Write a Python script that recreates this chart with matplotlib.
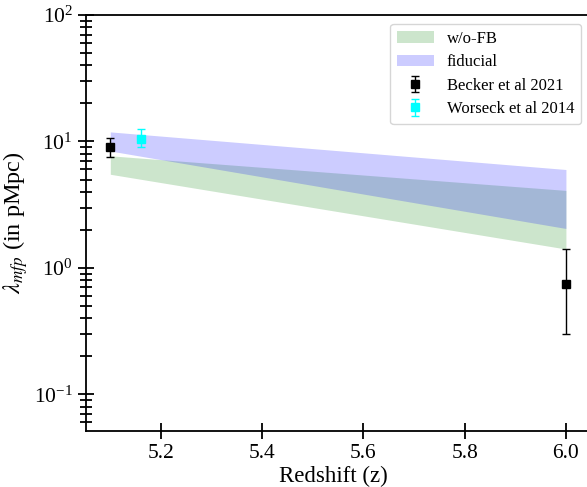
import matplotlib
matplotlib.use("Agg")
import matplotlib.pyplot as plt
import numpy as np

plt.rcParams['font.family'] = ['Liberation Serif', 'DejaVu Serif']
plt.rcParams['mathtext.fontset'] = 'stix'

# band data (z, lower, upper)
z_band = [5.1, 6.0]
nofb_low = [5.5, 1.41]
nofb_high = [7.7, 4.1]
fid_low = [8.4, 2.05]
fid_high = [11.9, 6.0]

# observational data
becker_z = [5.1, 6.0]
becker_y = [9.1, 0.75]
becker_lo = [7.6, 0.30]
becker_hi = [10.6, 1.40]

worseck_z = [5.16]
worseck_y = [10.5]
worseck_lo = [9.0]
worseck_hi = [12.5]

W = 520
fig = plt.figure(figsize=(5.87, 4.87), dpi=100)
ax = fig.add_axes([86/587, (487-431)/487, W/587, 416/487])

ax.fill_between(z_band, nofb_low, nofb_high, color='green', alpha=0.2, lw=0, label='w/o-FB')
ax.fill_between(z_band, fid_low, fid_high, color='blue', alpha=0.2, lw=0, label='fiducial')

by = np.array(becker_y)
ax.errorbar(becker_z, by, yerr=[by - np.array(becker_lo), np.array(becker_hi) - by],
            fmt='s', color='black', ecolor='black', ms=6, capsize=3, elinewidth=1,
            label='Becker et al 2021')
wy = np.array(worseck_y)
ax.errorbar(worseck_z, wy, yerr=[wy - np.array(worseck_lo), np.array(worseck_hi) - wy],
            fmt='s', color='cyan', ecolor='cyan', ms=6, capsize=3, elinewidth=1,
            label='Worseck et al 2014')

ax.set_yscale('log')
ax.set_ylim(10**-1.29, 100)
ax.set_xlim(5.052, 5.052 + W / 506.25)
ax.set_xticks([5.2, 5.4, 5.6, 5.8, 6.0])
ax.set_xticklabels(['5.2', '5.4', '5.6', '5.8', '6.0'])

ax.tick_params(axis='both', which='major', direction='inout', length=12, width=1.3, labelsize=15.5)
ax.tick_params(axis='both', which='minor', direction='inout', length=8, width=1.3)
ax.tick_params(axis='x', which='minor', bottom=False)
for s in ax.spines.values():
    s.set_linewidth(1.3)

ax.set_xlabel('Redshift (z)', fontsize=16.5)
ax.xaxis.set_label_coords((333 - 86) / W, -0.085)
ax.set_ylabel(r'$\lambda_{mfp}$ (in pMpc)', fontsize=17.5)
ax.yaxis.set_label_coords(-56 / W, 0.5)

ax.legend(loc='upper right', bbox_to_anchor=(581/587, 1 - 24/487), bbox_transform=fig.transFigure,
          borderaxespad=0, fontsize=12, frameon=True, fancybox=True, handlelength=2.2,
          labelspacing=0.45)

fig.savefig('out.png', dpi=100)
